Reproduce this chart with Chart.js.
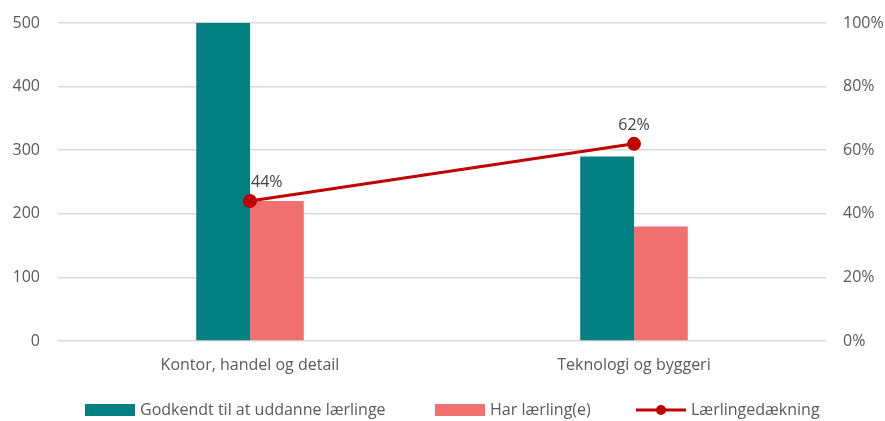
<!DOCTYPE html>
<html>
<head>
<meta charset="utf-8">
<script src="https://cdn.jsdelivr.net/npm/chart.js@4"></script>
<style>
  html, body { margin: 0; padding: 0; background: #fff; }
  #wrap { width: 885px; height: 421px; }
</style>
</head>
<body>
<div id="wrap"><canvas id="chart" width="885" height="421"></canvas></div>
<script>
// Data
const categories = ['Kontor, handel og detail', 'Teknologi og byggeri'];
const godkendt = [500, 290];
const harLaerling = [220, 180];
const daekning = [0.44, 0.62];
const seriesNames = ['Godkendt til at uddanne lærlinge', 'Har lærling(e)', 'Lærlingedækning'];

const TEAL = '#008080';
const PINK = '#F07070';
const RED = '#C00000';
const TEXT = '#595959';
const FONT = '"Open Sans", Lato, sans-serif';
const FS = 16;

// Værdietiketter ved linjens punkter
const lineLabels = {
  id: 'lineLabels',
  afterDatasetsDraw(chart) {
    const ctx = chart.ctx;
    const meta = chart.getDatasetMeta(0);
    ctx.save();
    ctx.font = FS + 'px ' + FONT;
    ctx.fillStyle = '#404040';
    ctx.textBaseline = 'bottom';
    meta.data.forEach((pt, i) => {
      const txt = Math.round(daekning[i] * 100) + '%';
      if (i === 0) {
        ctx.textAlign = 'left';
        ctx.fillText(txt, pt.x + 1, pt.y - 11);
      } else {
        ctx.textAlign = 'center';
        ctx.fillText(txt, pt.x, pt.y - 10);
      }
    });
    ctx.restore();
  }
};

// Egen forklaring nederst
const bottomLegend = {
  id: 'bottomLegend',
  afterDraw(chart) {
    const ctx = chart.ctx;
    const y = 410;
    ctx.save();
    ctx.font = FS + 'px ' + FONT;
    ctx.textBaseline = 'middle';
    ctx.textAlign = 'left';
    const items = [
      { x: 85, color: TEAL, type: 'box' },
      { x: 435, color: PINK, type: 'box' },
      { x: 636, color: RED, type: 'line' }
    ];
    items.forEach((it, i) => {
      if (it.type === 'box') {
        ctx.fillStyle = it.color;
        ctx.fillRect(it.x, y - 6, 50, 12);
      } else {
        ctx.strokeStyle = it.color;
        ctx.lineWidth = 3;
        ctx.beginPath();
        ctx.moveTo(it.x, y);
        ctx.lineTo(it.x + 50, y);
        ctx.stroke();
        ctx.fillStyle = it.color;
        ctx.beginPath();
        ctx.arc(it.x + 25, y, 5, 0, Math.PI * 2);
        ctx.fill();
      }
      ctx.fillStyle = TEXT;
      ctx.fillText(seriesNames[i], it.x + 55, y);
    });
    ctx.restore();
  }
};

new Chart(document.getElementById('chart').getContext('2d'), {
  data: {
    labels: categories,
    datasets: [
      {
        type: 'line',
        label: seriesNames[2],
        data: daekning,
        yAxisID: 'y1',
        borderColor: RED,
        backgroundColor: RED,
        borderWidth: 3,
        pointRadius: 5.5,
        pointHoverRadius: 5.5,
        tension: 0,
        order: 0
      },
      {
        type: 'bar',
        label: seriesNames[0],
        data: godkendt,
        backgroundColor: TEAL,
        yAxisID: 'y',
        categoryPercentage: 0.28,
        barPercentage: 1,
        order: 1
      },
      {
        type: 'bar',
        label: seriesNames[1],
        data: harLaerling,
        backgroundColor: PINK,
        yAxisID: 'y',
        categoryPercentage: 0.28,
        barPercentage: 1,
        order: 1
      }
    ]
  },
  options: {
    responsive: false,
    animation: false,
    layout: { padding: { top: 23, left: 0, right: 0, bottom: 0 } },
    plugins: { legend: { display: false }, tooltip: { enabled: false } },
    scales: {
      x: {
        grid: { display: false, drawTicks: false },
        border: { display: false },
        ticks: { color: TEXT, font: { family: FONT, size: FS }, padding: 15 },
        afterFit(scale) { scale.height = 80; }
      },
      y: {
        position: 'left',
        min: 0,
        max: 500,
        ticks: { stepSize: 100, color: TEXT, font: { family: FONT, size: FS }, padding: 18 },
        grid: { color: '#D9D9D9', lineWidth: 1.5, drawTicks: false },
        border: { display: false },
        afterFit(scale) {
          scale.width = 58;
          scale.paddingTop = 0;
          scale.paddingBottom = 0;
        }
      },
      y1: {
        position: 'right',
        min: 0,
        max: 1,
        ticks: {
          stepSize: 0.2,
          color: TEXT,
          font: { family: FONT, size: FS },
          padding: 17,
          callback: v => Math.round(v * 100) + '%'
        },
        grid: { display: false, drawTicks: false },
        border: { display: false },
        afterFit(scale) {
          scale.width = 59;
          scale.paddingTop = 0;
          scale.paddingBottom = 0;
        }
      }
    }
  },
  plugins: [lineLabels, bottomLegend]
});
</script>
</body>
</html>
